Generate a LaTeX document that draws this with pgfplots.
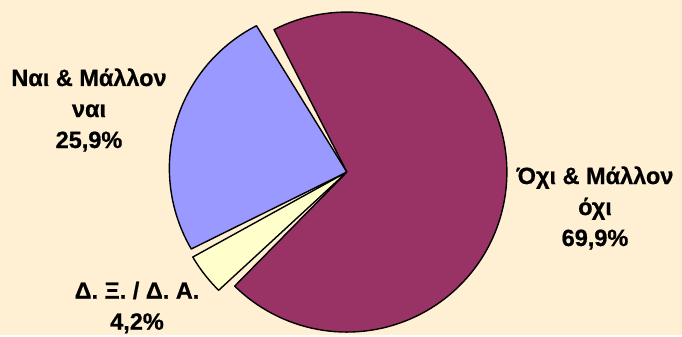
\documentclass[border=0pt]{standalone}
\usepackage{pgfplots}
\pgfplotsset{compat=1.18}
\usepackage{fontspec}
\setmainfont{Liberation Sans}
\newfontfamily\bb{Liberation Sans Bold}[FakeBold=0.8]
\definecolor{bgc}{HTML}{FFF0D4}
\definecolor{cpur}{HTML}{993366}
\definecolor{cblu}{HTML}{9999FF}
\definecolor{cyel}{HTML}{FFFFCC}
% data (percent)
\def\vNai{25.9}
\def\vDX{4.2}
\def\vOxi{69.9}
% geometry (px)
\def\cx{338}\def\cy{164.3}\def\R{160}\def\ex{9}\def\start{117.1}
\pgfmathsetmacro{\aA}{\start}
\pgfmathsetmacro{\aB}{\aA+3.6*\vNai}
\pgfmathsetmacro{\aC}{\aB+3.6*\vDX}
\pgfmathsetmacro{\aD}{\aC+3.6*\vOxi}
\begin{document}
\begin{tikzpicture}
\fill[bgc] (0,0) rectangle (682pt,335pt);
\begin{axis}[at={(0,0)},anchor=origin,scale only axis,width=682pt,height=335pt,
  xmin=0,xmax=682,ymin=0,ymax=335,hide axis,clip=false]
\newcommand\slice[3]{%
  \pgfmathsetmacro{\mid}{(#1+#2)/2}%
  \pgfmathsetmacro{\px}{\cx+\ex*cos(\mid)}%
  \pgfmathsetmacro{\py}{\cy+\ex*sin(\mid)}%
  \addplot[fill=#3,draw=black,line width=1.4pt,line join=round,domain=#1:#2,samples=120,variable=\t]
    ({\px+\R*cos(\t)},{\py+\R*sin(\t)}) -- (axis cs:\px,\py) -- cycle;
}
\slice{\aA}{\aB}{cblu}
\slice{\aB}{\aC}{cyel}
\slice{\aC}{\aD}{cpur}
\node[align=center,font=\bb\fontsize{23.5}{31}\selectfont] at (axis cs:89,225) {Ναι \& Μάλλον\\ναι\\25,9\%};
\node[align=center,font=\bb\fontsize{23.5}{31}\selectfont] at (axis cs:595,127) {Όχι \& Μάλλον\\όχι\\69,9\%};
\node[align=center,font=\bb\fontsize{23.5}{31}\selectfont] at (axis cs:137,27.5) {Δ. Ξ. / Δ. Α.\\4,2\%};
\end{axis}
\end{tikzpicture}
\end{document}
